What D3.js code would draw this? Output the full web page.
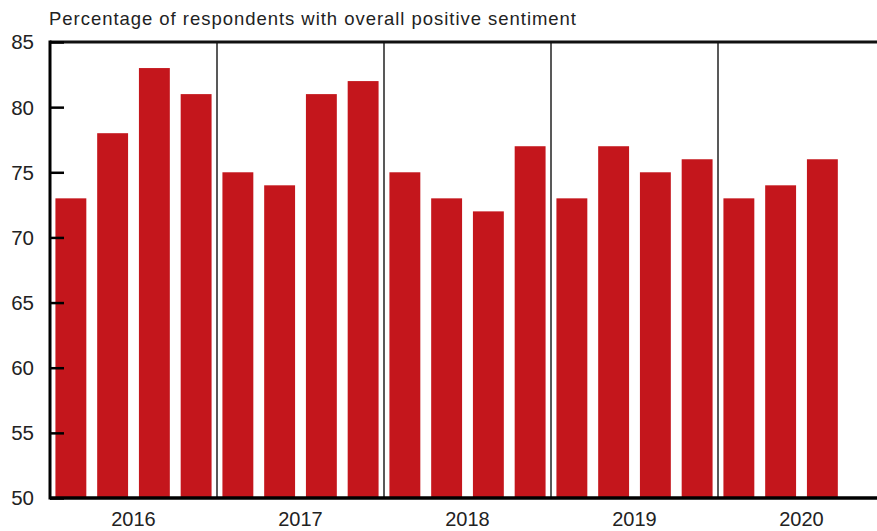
<!DOCTYPE html>
<html>
<head>
<meta charset="utf-8">
<script src="https://cdn.jsdelivr.net/npm/d3@7"></script>
<style>
  html, body { margin: 0; padding: 0; background: #fff; overflow: hidden; }
  svg { display: block; font-family: "Liberation Sans", Arial, Helvetica, sans-serif; }
</style>
</head>
<body>
<svg id="chart" width="877" height="531"></svg>
<script>
// Quarterly survey results, 2016 Q1 – 2020 Q3
const years = ["2016", "2017", "2018", "2019", "2020"];
const quarters = ["Q1", "Q2", "Q3", "Q4"];
const values2016 = [73, 78, 83, 81];
const values2017 = [75, 74, 81, 82];
const values2018 = [75, 73, 72, 77];
const values2019 = [73, 77, 75, 76];
const values2020 = [73, 74, 76];
const yTicks = [50, 55, 60, 65, 70, 75, 80, 85];
const title = "Percentage of respondents with overall positive sentiment";

const seriesByYear = [values2016, values2017, values2018, values2019, values2020];
const data = [];
years.forEach((yr, i) => {
  seriesByYear[i].forEach((v, q) => data.push({ year: yr, quarter: quarters[q], key: yr + quarters[q], value: v }));
});

const svg = d3.select("#chart");
const plotLeft = 50, plotRight = 885, plotTop = 42, plotBottom = 498;

// one slot per quarter across all five years (last year's Q4 slot stays empty)
const slots = years.flatMap(yr => quarters.map(q => yr + q));
const x = d3.scaleBand().domain(slots).range([plotLeft, plotRight]).paddingInner(0.26).paddingOuter(0.13);
const xYear = d3.scaleBand().domain(years).range([plotLeft, plotRight]);
const y = d3.scaleLinear().domain([50, 85]).range([plotBottom, plotTop]);

// bars
svg.append("g").selectAll("rect").data(data).join("rect")
  .attr("x", d => x(d.key))
  .attr("width", x.bandwidth())
  .attr("y", d => y(d.value))
  .attr("height", d => y(50) - y(d.value))
  .attr("fill", "#c4161c");

// year separators
svg.append("g").selectAll("line").data(years.slice(1)).join("line")
  .attr("x1", d => xYear(d)).attr("x2", d => xYear(d))
  .attr("y1", plotTop).attr("y2", plotBottom)
  .attr("stroke", "#222").attr("stroke-width", 1.5);

// top frame line
svg.append("line")
  .attr("x1", plotLeft).attr("x2", 877).attr("y1", plotTop).attr("y2", plotTop)
  .attr("stroke", "#111").attr("stroke-width", 3);

// y axis with inward ticks
const yAxis = d3.axisRight(y).tickValues(yTicks).tickSize(14).tickFormat("");
const gy = svg.append("g").attr("transform", `translate(${plotLeft},0)`).call(yAxis);
gy.select(".domain").remove();
gy.selectAll(".tick line").attr("stroke", "#000").attr("stroke-width", 2.5);

svg.append("line")
  .attr("x1", plotLeft).attr("x2", plotLeft).attr("y1", plotTop - 1.5).attr("y2", plotBottom + 1.5)
  .attr("stroke", "#000").attr("stroke-width", 3);

svg.append("g").selectAll("text").data(yTicks).join("text")
  .attr("x", 34).attr("y", d => y(d))
  .attr("dy", "0.36em")
  .attr("text-anchor", "end")
  .attr("font-size", 20.5)
  .attr("fill", "#222")
  .text(d => d);

// bottom axis
svg.append("line")
  .attr("x1", plotLeft).attr("x2", 877).attr("y1", plotBottom).attr("y2", plotBottom)
  .attr("stroke", "#000").attr("stroke-width", 3.5);

svg.append("g").selectAll("text").data(years).join("text")
  .attr("x", d => xYear(d) + xYear.bandwidth() / 2)
  .attr("y", 526)
  .attr("text-anchor", "middle")
  .attr("font-size", 20)
  .attr("fill", "#222")
  .text(d => d);

// title
svg.append("text")
  .attr("x", 49).attr("y", 25)
  .attr("font-size", 18.5)
  .attr("textLength", 527)
  .attr("lengthAdjust", "spacing")
  .attr("fill", "#222")
  .text(title);
</script>
</body>
</html>
